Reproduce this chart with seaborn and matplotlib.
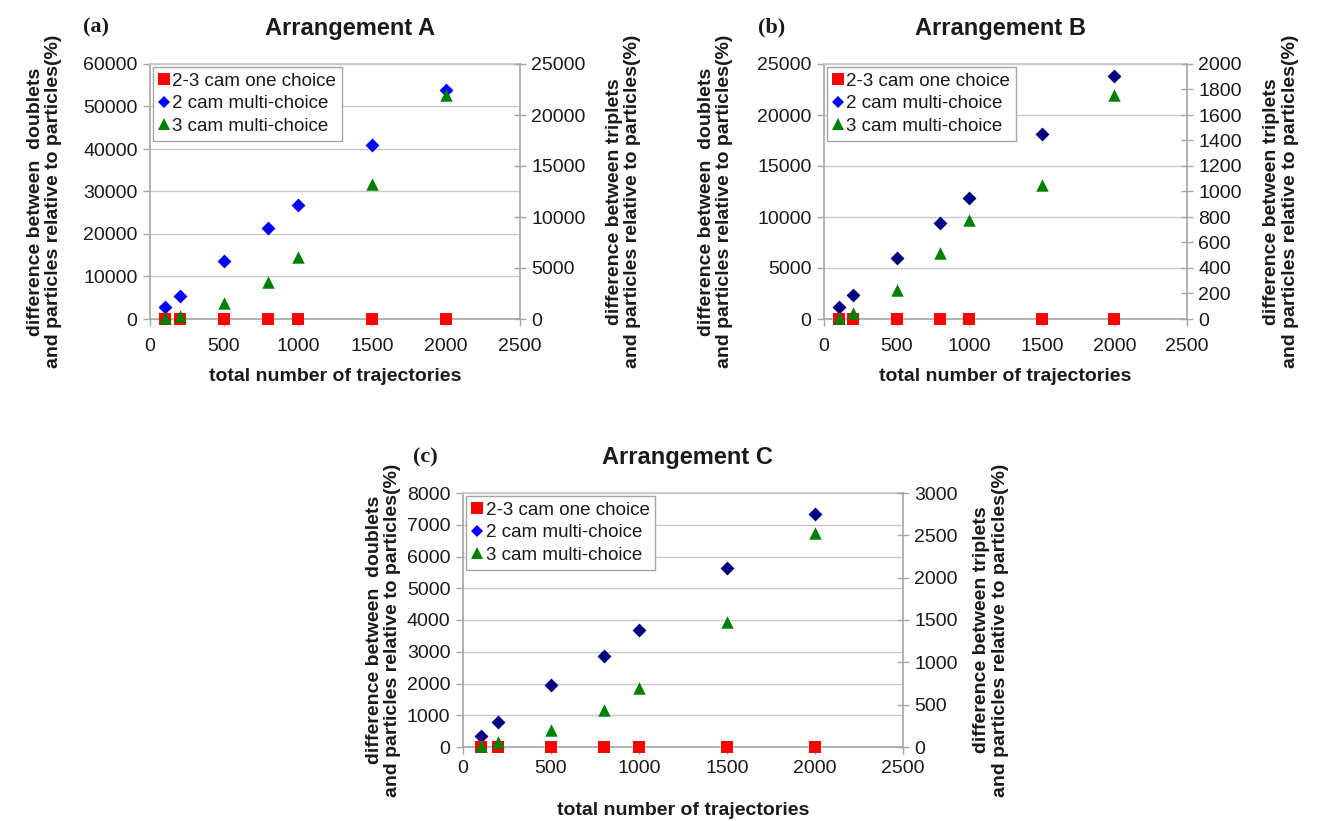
import matplotlib
matplotlib.use("Agg")
import matplotlib.pyplot as plt
import seaborn as sns
from matplotlib.lines import Line2D

sns.set_theme(style="white")
plt.rcParams["font.family"] = ["Liberation Sans", "DejaVu Sans"]

# Total number of trajectories (shared x values)
trajectories = [100, 200, 500, 800, 1000, 1500, 2000]

# Arrangement A
one_choice_a = [0, 0, 0, 0, 0, 0, 0]
doublets_a = [2800, 5300, 13600, 21300, 26900, 41000, 53800]
triplets_a = [60, 280, 1550, 3650, 6100, 13200, 22000]

# Arrangement B
one_choice_b = [0, 0, 0, 0, 0, 0, 0]
doublets_b = [1200, 2400, 6000, 9400, 11900, 18100, 23800]
triplets_b = [10, 45, 225, 520, 780, 1050, 1760]

# Arrangement C
one_choice_c = [0, 0, 0, 0, 0, 0, 0]
doublets_c = [350, 800, 1950, 2870, 3680, 5630, 7350]
triplets_c = [15, 60, 205, 440, 700, 1480, 2530]

series_labels = ["2-3 cam one choice", "2 cam multi-choice", "3 cam multi-choice"]
x_ticks = [0, 500, 1000, 1500, 2000, 2500]

left_label = "difference between  doublets\nand particles relative to particles(%)"
right_label = "difference between triplets\nand particles relative to particles(%)"
x_label = "total number of trajectories"

RED = "#ff0000"
BLUE = "#0000ff"
NAVY = "#000080"
GREEN = "#008000"
SPINE = "#a6a6a6"
GRID = "#c8c8c8"
TEXT = "#1a1a1a"

fig = plt.figure(figsize=(13.21, 8.21), dpi=100)


def panel(rect, tag, tag_xy, title, title_x, one_choice, doublets, triplets,
          left_max, left_step, right_max, right_step, diamond_color,
          ylab_x, y2lab_x, xtick_pad, xlabel_pad):
    ax = fig.add_axes(rect)
    ax2 = ax.twinx()

    sns.scatterplot(x=trajectories, y=doublets, ax=ax, marker="D", s=50,
                    color=diamond_color, linewidth=0, legend=False, zorder=3,
                    clip_on=False)
    sns.scatterplot(x=trajectories, y=one_choice, ax=ax, marker="s", s=85,
                    color=RED, linewidth=0, legend=False, zorder=3,
                    clip_on=False)
    sns.scatterplot(x=trajectories, y=triplets, ax=ax2, marker="^", s=80,
                    color=GREEN, linewidth=0, legend=False, zorder=3,
                    clip_on=False)

    ax.set_xlim(0, 2500)
    ax.set_xticks(x_ticks)
    ax.set_ylim(0, left_max)
    ax.set_yticks(list(range(0, left_max + 1, left_step)))
    ax2.set_ylim(0, right_max)
    ax2.set_yticks(list(range(0, right_max + 1, right_step)))

    ax.yaxis.grid(True, color=GRID, lw=1.0)
    ax.set_axisbelow(True)
    for s in ("left", "bottom"):
        ax.spines[s].set_color(SPINE)
        ax.spines[s].set_linewidth(1.2)
    ax.spines["top"].set_color(GRID)
    ax.spines["right"].set_visible(False)
    for s in ("left", "bottom", "top"):
        ax2.spines[s].set_visible(False)
    ax2.spines["right"].set_color(SPINE)
    ax2.spines["right"].set_linewidth(1.2)

    ax.tick_params(axis="y", which="major", labelsize=14, labelcolor=TEXT,
                   color=SPINE, length=5, width=1, direction="out",
                   left=True, pad=4)
    ax.tick_params(axis="x", which="major", labelsize=14, labelcolor=TEXT,
                   color=SPINE, length=5, width=1, direction="out",
                   bottom=True, pad=xtick_pad)
    ax2.tick_params(axis="y", labelsize=14, labelcolor=TEXT, color=SPINE,
                    length=8, width=1, direction="inout", right=True, pad=4)

    ax.set_xlabel(x_label, fontsize=14, fontweight="bold", color=TEXT,
                  labelpad=xlabel_pad)
    ax.set_ylabel(left_label, fontsize=14, fontweight="bold", color=TEXT,
                  linespacing=1.1)
    ax.yaxis.set_label_coords(ylab_x, 0.46)
    ax2.set_ylabel(right_label, fontsize=14, fontweight="bold", color=TEXT,
                   linespacing=1.1, rotation=90)
    ax2.yaxis.set_label_coords(y2lab_x, 0.46)

    ax.set_title(title, fontsize=17, fontweight="bold", color=TEXT, x=title_x,
                 pad=21)
    fig.text(tag_xy[0] / 1321, 1 - tag_xy[1] / 821, tag, fontsize=16,
             fontweight="bold", family="Liberation Serif", color=TEXT,
             ha="left", va="center")

    handles = [
        Line2D([], [], marker="s", ls="", color=RED, ms=8.5, mew=0),
        Line2D([], [], marker="D", ls="", color=BLUE, ms=6, mew=0),
        Line2D([], [], marker="^", ls="", color=GREEN, ms=8.5, mew=0),
    ]
    leg = ax2.legend(handles, series_labels, loc="upper left", fontsize=13.5,
                     frameon=True, fancybox=False, framealpha=1,
                     edgecolor=SPINE, borderaxespad=0.15, handlelength=0.6,
                     handletextpad=0.15, labelspacing=0.3, borderpad=0.3)
    leg.get_frame().set_linewidth(1.0)
    for t in leg.get_texts():
        t.set_color(TEXT)
    return ax, ax2


panel([150 / 1321, 1 - 319 / 821, 370 / 1321, 255 / 821], "(a)", (83, 27),
      "Arrangement A", 0.54, one_choice_a, doublets_a, triplets_a,
      60000, 10000, 25000, 5000, BLUE, -0.238, 1.232, 9, 9)
panel([824 / 1321, 1 - 319 / 821, 363 / 1321, 255 / 821], "(b)", (758, 27),
      "Arrangement B", 0.485, one_choice_b, doublets_b, triplets_b,
      25000, 5000, 2000, 200, NAVY, -0.25, 1.21, 9, 9)
panel([463 / 1321, 1 - 747 / 821, 440 / 1321, 254 / 821], "(c)", (413, 457),
      "Arrangement C", 0.51, one_choice_c, doublets_c, triplets_c,
      8000, 1000, 3000, 500, NAVY, -0.14, 1.16, 4, 18)

fig.savefig("out.png", dpi=100)
